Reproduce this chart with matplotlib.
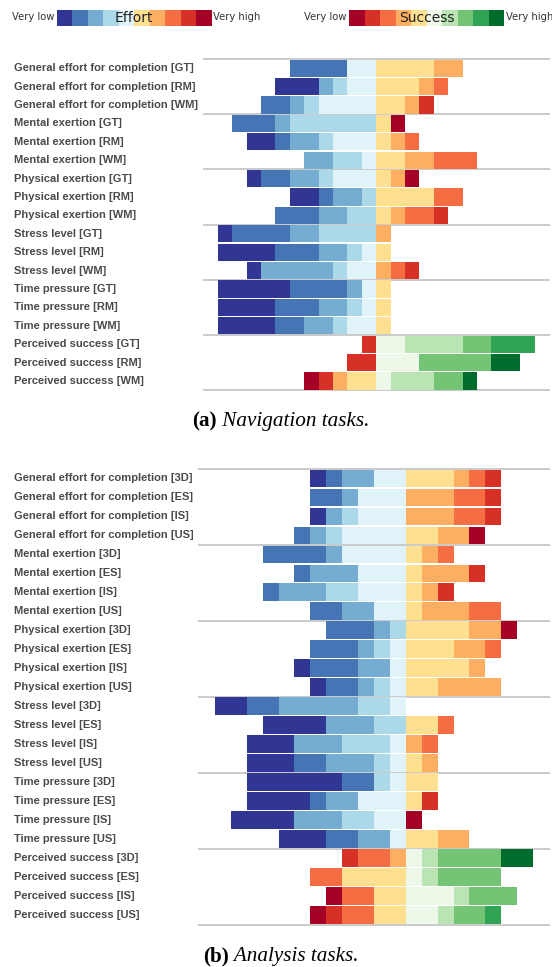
import matplotlib
matplotlib.use('Agg')
import matplotlib.pyplot as plt
from matplotlib.transforms import blended_transform_factory

# ---------------- data (counts of responses, 10-point scale, 12 participants) ----------
measures = ['General effort for completion', 'Mental exertion', 'Physical exertion',
            'Stress level', 'Time pressure', 'Perceived success']
nav_conditions = ['GT', 'RM', 'WM']
ana_conditions = ['3D', 'ES', 'IS', 'US']

nav_general_effort = [[0, 4, 0, 0, 2, 4, 2, 0, 0, 0], [3, 0, 1, 1, 2, 3, 1, 1, 0, 0], [0, 2, 1, 1, 4, 2, 1, 0, 1, 0]]
nav_mental = [[0, 3, 1, 6, 0, 1, 0, 0, 0, 1], [2, 1, 2, 1, 3, 1, 1, 1, 0, 0], [0, 0, 2, 2, 1, 2, 2, 3, 0, 0]]
nav_physical = [[1, 2, 2, 1, 3, 1, 1, 0, 0, 1], [2, 1, 2, 1, 0, 4, 0, 2, 0, 0], [0, 3, 2, 2, 0, 1, 1, 2, 1, 0]]
nav_stress = [[1, 4, 2, 4, 0, 0, 1, 0, 0, 0], [4, 3, 2, 1, 1, 1, 0, 0, 0, 0], [1, 0, 5, 1, 2, 0, 1, 1, 1, 0]]
nav_time = [[5, 4, 1, 0, 1, 1, 0, 0, 0, 0], [4, 3, 2, 1, 1, 1, 0, 0, 0, 0], [4, 2, 2, 1, 2, 1, 0, 0, 0, 0]]
nav_success = [[0, 1, 0, 0, 0, 2, 4, 2, 3, 0], [0, 2, 0, 0, 0, 3, 0, 5, 0, 2], [1, 1, 0, 1, 2, 1, 3, 2, 0, 1]]

ana_general_effort = [[1, 1, 2, 0, 2, 3, 1, 1, 1, 0], [0, 2, 1, 0, 3, 0, 3, 2, 1, 0],
                      [1, 0, 1, 1, 3, 0, 3, 2, 1, 0], [0, 1, 1, 1, 4, 2, 2, 0, 0, 1]]
ana_mental = [[0, 4, 1, 0, 4, 1, 1, 1, 0, 0], [0, 1, 3, 0, 3, 1, 3, 0, 1, 0],
              [0, 1, 3, 2, 3, 1, 1, 0, 1, 0], [0, 2, 2, 0, 2, 1, 3, 2, 0, 0]]
ana_physical = [[0, 3, 1, 1, 0, 4, 2, 0, 0, 1], [0, 3, 1, 1, 1, 3, 2, 1, 0, 0],
                [1, 3, 2, 0, 1, 4, 1, 0, 0, 0], [1, 2, 1, 1, 1, 2, 4, 0, 0, 0]]
ana_stress = [[2, 2, 5, 2, 1, 0, 0, 0, 0, 0], [4, 0, 3, 2, 0, 2, 0, 1, 0, 0],
              [3, 0, 3, 3, 1, 0, 1, 1, 0, 0], [3, 2, 3, 1, 1, 1, 1, 0, 0, 0]]
ana_time = [[6, 2, 0, 1, 1, 2, 0, 0, 0, 0], [4, 1, 2, 0, 3, 1, 0, 0, 1, 0],
            [4, 0, 3, 2, 2, 0, 0, 0, 0, 1], [3, 2, 2, 0, 1, 2, 2, 0, 0, 0]]
ana_success = [[0, 1, 2, 1, 0, 1, 1, 4, 0, 2], [0, 0, 2, 0, 4, 1, 1, 4, 0, 0],
               [1, 0, 2, 0, 2, 3, 1, 3, 0, 0], [1, 1, 2, 0, 2, 2, 1, 2, 1, 0]]

effort_colors = ['#313695', '#4575b4', '#74add1', '#abd9e9', '#e0f3f8',
                 '#fee090', '#fdae61', '#f46d43', '#d73027', '#a50026']
success_colors = ['#a50026', '#d73027', '#f46d43', '#fdae61', '#fee090',
                  '#edf8e9', '#bae4b3', '#74c476', '#31a354', '#006d2c']

# ---------------- figure -------------------------------------------------------------
W, H = 552, 967
fig = plt.figure(figsize=(W / 100, H / 100), dpi=100)
fig.patch.set_facecolor('white')


def px_axes(x0, x1, y0, y1):
    return fig.add_axes([x0 / W, 1 - y1 / H, (x1 - x0) / W, (y1 - y0) / H])


LABEL_KW = dict(fontsize=8.0, fontweight='bold', color='#4a4a4a', family='Liberation Sans',
                ha='left', va='center')


def draw_panel(ax, groups, conds, xlim, ylim):
    rows = []
    for mname, data in zip(measures, groups):
        pal = success_colors if mname == 'Perceived success' else effort_colors
        for cond, counts in zip(conds, data):
            rows.append((f'{mname} [{cond}]', counts, pal))
    trans = blended_transform_factory(fig.transFigure, ax.transData)
    for i, (label, counts, pal) in enumerate(rows):
        cum = 0
        for k in range(4, -1, -1):
            w = counts[k]
            if w:
                ax.barh(i, w, left=-(cum + w), color=pal[k], height=0.93, linewidth=0, zorder=2)
            cum += w
        cum = 0
        for k in range(5, 10):
            w = counts[k]
            if w:
                ax.barh(i, w, left=cum, color=pal[k], height=0.93, linewidth=0, zorder=2)
            cum += w
        ax.text(14 / W, i, label, transform=trans, **LABEL_KW)
    n = len(conds)
    for g in range(len(measures) + 1):
        ax.axhline(-0.5 + g * n, color='#c6c6c6', lw=1.3, zorder=1, clip_on=False)
    ax.set_xlim(*xlim)
    ax.set_ylim(*ylim)
    ax.axis('off')


ax_a = px_axes(203.5, 549, 58.5, 390.3)
draw_panel(ax_a, [nav_general_effort, nav_mental, nav_physical, nav_stress, nav_time, nav_success],
           nav_conditions, (-12, 12), (17.505, -0.53))

ax_b = px_axes(199, 549, 468.3, 925.3)
draw_panel(ax_b, [ana_general_effort, ana_mental, ana_physical, ana_stress, ana_time, ana_success],
           ana_conditions, (-13, 9), (23.53, -0.53))


# ---------------- legends --------------------------------------------------------------
def draw_legend(x0, x1, y0, y1, colors, title):
    ax = px_axes(x0, x1, y0, y1)
    ax.bar(range(len(colors)), 1, width=1.0, color=colors, linewidth=0)
    ax.set_xlim(-0.5, len(colors) - 0.5)
    ax.set_ylim(0, 1)
    ax.axis('off')
    ax.text(0.5, 0.45, title, transform=ax.transAxes, ha='center', va='center',
            fontsize=10, color='#222222', family='DejaVu Sans')
    yc = 1 - ((y0 + y1) / 2) / H
    fig.text((x0 - 2.5) / W, yc, 'Very low', ha='right', va='center', fontsize=7.2,
             color='#333333', family='DejaVu Sans')
    fig.text((x1 + 1.5) / W, yc, 'Very high', ha='left', va='center', fontsize=7.2,
             color='#333333', family='DejaVu Sans')


draw_legend(57, 211.6, 9.5, 25.5, effort_colors, 'Effort')
draw_legend(349, 504, 9.5, 25.5, success_colors, 'Success')

# ---------------- captions ---------------------------------------------------------------
fig.canvas.draw()
renderer = fig.canvas.get_renderer()


def caption(tag, text, xc, baseline):
    y = 1 - baseline / H
    t1 = fig.text(0, y, tag, fontsize=15.2, fontweight='bold', family='Liberation Serif',
                  ha='left', va='baseline', color='black')
    t2 = fig.text(0, y, ' ' + text, fontsize=15.2, style='italic', family='Liberation Serif',
                  ha='left', va='baseline', color='black')
    w1 = t1.get_window_extent(renderer).width
    w2 = t2.get_window_extent(renderer).width
    start = xc - (w1 + w2) / 2
    t1.set_x(start / W)
    t2.set_x((start + w1) / W)


caption('(a)', 'Navigation tasks.', 281, 426.5)
caption('(b)', 'Analysis tasks.', 281, 961)

fig.savefig('out.png', dpi=100, facecolor='white')
